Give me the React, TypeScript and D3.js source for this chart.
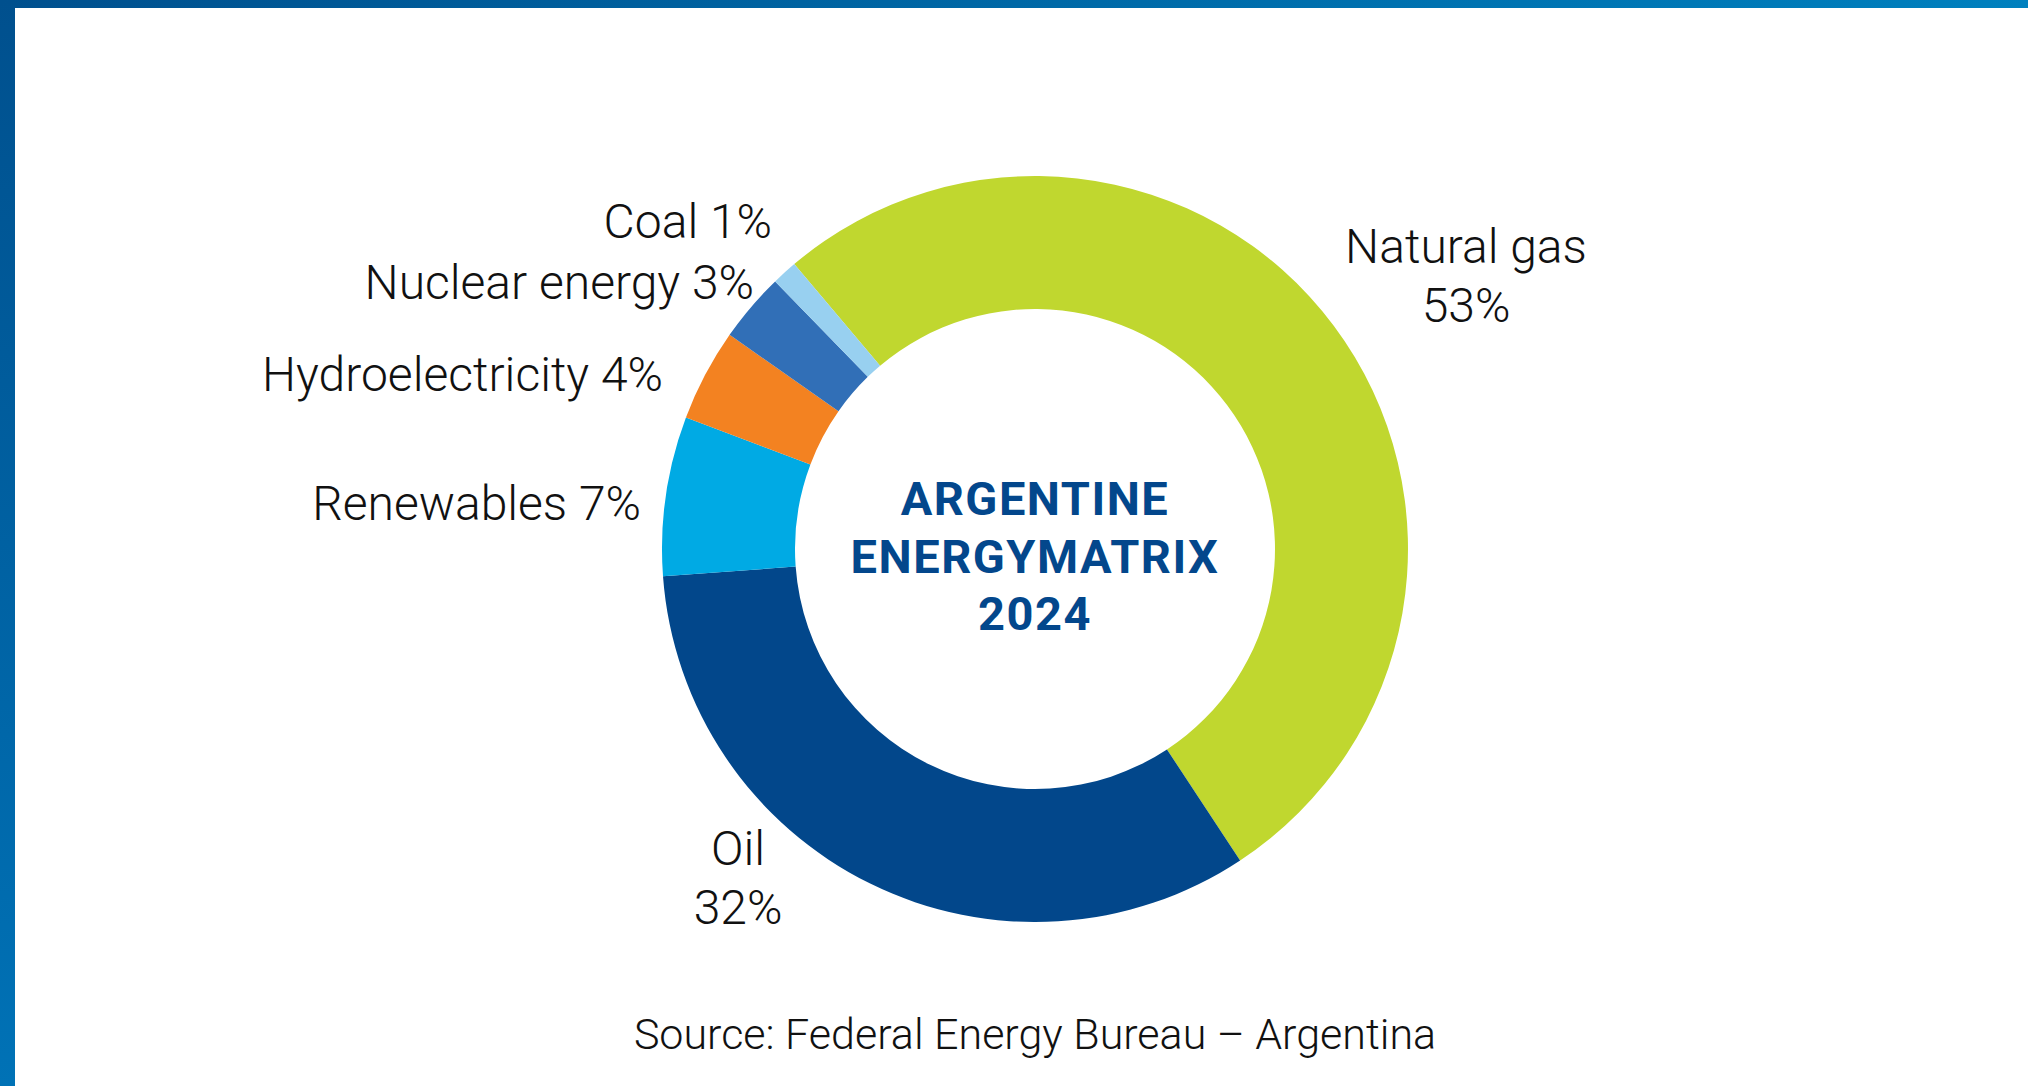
import React from "react";
import * as d3 from "d3";

const categories = ["Natural gas", "Oil", "Renewables", "Hydroelectricity", "Nuclear energy", "Coal"];
const values = [51.9, 33.1, 6.9, 4.0, 3.0, 1.1];
const percentLabels = ["53%", "32%", "7%", "4%", "3%", "1%"];
const colors = ["#C0D72F", "#02478B", "#00AAE4", "#F38221", "#316FB7", "#98D0F0"];
const titleLines = ["ARGENTINE", "ENERGYMATRIX", "2024"];
const sourceText = "Source: Federal Energy Bureau – Argentina";

const W = 2028;
const H = 1086;
const cx = 1035;
const cy = 549;
const outerR = 373;
const innerR = 240;
const startDeg = -40.2;

// label layouts: [x, baselineY, anchor, twoLine]
const labelPos: [number, number, string, boolean][] = [
  [1466, 263, "middle", true],
  [738, 865, "middle", true],
  [641, 520, "end", false],
  [663, 391, "end", false],
  [754, 299, "end", false],
  [772, 238, "end", false],
];

export default function App() {
  const pie = d3
    .pie<number>()
    .sort(null)
    .value((d) => d)
    .startAngle((startDeg * Math.PI) / 180)
    .endAngle(((startDeg + 360) * Math.PI) / 180);
  const arcs = pie(values);
  const arc = d3.arc<d3.PieArcDatum<number>>().innerRadius(innerR).outerRadius(outerR);

  const labelFont = "Roboto, 'Noto Sans', sans-serif";

  return (
    <svg
      width={W}
      height={H}
      style={{ position: "absolute", left: 0, top: 0, background: "#fff" }}
    >
      <defs>
        <linearGradient id="topBar" x1="0" x2="1" y1="0" y2="0">
          <stop offset="0" stopColor="#00508E" />
          <stop offset="1" stopColor="#0080BE" />
        </linearGradient>
        <linearGradient id="leftBar" x1="0" x2="0" y1="0" y2="1">
          <stop offset="0" stopColor="#00508E" />
          <stop offset="1" stopColor="#0072B6" />
        </linearGradient>
      </defs>
      <rect x={0} y={0} width={W} height={H} fill="#fff" />
      <rect x={0} y={0} width={W} height={8} fill="url(#topBar)" />
      <rect x={0} y={0} width={15} height={H} fill="url(#leftBar)" />

      <g transform={`translate(${cx},${cy})`}>
        {arcs.map((a, i) => (
          <path key={categories[i]} d={arc(a) || ""} fill={colors[i]} />
        ))}
      </g>

      <g fontFamily={labelFont} fontWeight={700} fill="#03478C" textAnchor="middle" fontSize={47} letterSpacing={1.5}>
        {titleLines.map((t, i) => (
          <text key={t} x={cx} y={515 + i * 57.5}>
            {t}
          </text>
        ))}
      </g>

      <g fontFamily={labelFont} fontWeight={300} fill="#111" fontSize={48}>
        {categories.map((c, i) => {
          const [x, y, anchor, two] = labelPos[i];
          if (two) {
            return (
              <text key={c} x={x} y={y} textAnchor={anchor}>
                <tspan x={x} y={y}>{c}</tspan>
                <tspan x={x} y={y + 59}>{percentLabels[i]}</tspan>
              </text>
            );
          }
          return (
            <text key={c} x={x} y={y} textAnchor={anchor}>
              {`${c} ${percentLabels[i]}`}
            </text>
          );
        })}
      </g>

      <text
        x={cx}
        y={1049}
        textAnchor="middle"
        fontFamily={labelFont}
        fontWeight={300}
        fontSize={43}
        fill="#111"
      >
        {sourceText}
      </text>
    </svg>
  );
}
